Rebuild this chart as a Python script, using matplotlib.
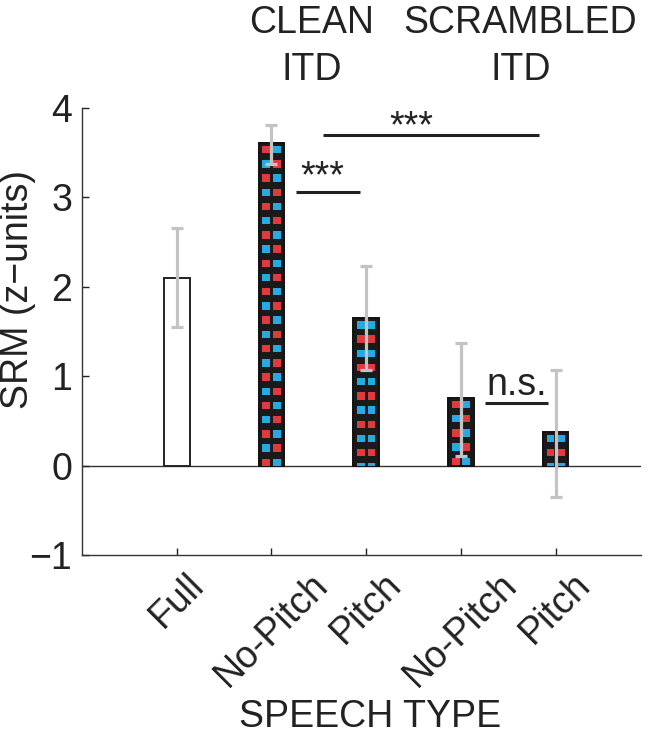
import numpy as np
import matplotlib
matplotlib.use('Agg')
import matplotlib.pyplot as plt
from matplotlib.patches import Rectangle

plt.rcParams['font.family'] = ['Liberation Sans', 'DejaVu Sans']
plt.rcParams['axes.unicode_minus'] = True

# values
labels = ['Full', 'No-Pitch', 'Pitch', 'No-Pitch', 'Pitch']
srm = [2.10, 3.61, 1.65, 0.76, 0.38]
err_hi = [2.66, 3.81, 2.23, 1.37, 1.07]
err_lo = [1.55, 3.37, 1.07, 0.11, -0.35]
patterns = [None, 'checker', 'rows', 'checker', 'rows']

# significance brackets
sig_x1 = [2.26, 2.54, 4.25]
sig_x2 = [2.93, 4.82, 4.92]
sig_y = [3.06, 3.70, 0.70]
sig_tx = [2.54, 3.48, 4.59]
sig_ty = [3.11, 3.67, 0.79]
sig_text = ['***', '***', 'n.s.']

groups = ['CLEAN', 'SCRAMBLED']
group_x = [2.42, 4.63]

RED = '#e0393e'
BLUE = '#27a9e1'
FS = 27

fig = plt.figure(figsize=(6.58, 7.39), dpi=100)
ax = fig.add_axes([0.1246, 0.249, 0.8495, 0.6049])

x = np.arange(1, len(labels) + 1)
width = 0.27

bars = []
for i in range(len(labels)):
    if patterns[i] is None:
        b = ax.bar(x[i], srm[i], width, color='white', edgecolor='#222222', linewidth=1.4, zorder=2)
    else:
        b = ax.bar(x[i], srm[i], width, color='#1a1a1a', edgecolor='#111111', linewidth=1.4, zorder=2)
    bars.append(b[0])

# checker / striped squares inside the patterned bars
sq_w = 0.082
sq_h = 0.083
pitch = 0.159
for i in range(len(labels)):
    if patterns[i] is None:
        continue
    left = x[i] - width / 2
    col_x = [left + 0.040, left + 0.150]
    top = srm[i] - 0.034
    n_rows = int(np.ceil(srm[i] / pitch)) + 1
    for r in range(n_rows):
        y0 = top - r * pitch - sq_h
        for c in range(2):
            if patterns[i] == 'checker':
                col = RED if (r + c) % 2 == 0 else BLUE
            else:
                col = BLUE if r % 2 == 0 else RED
            sq = Rectangle((col_x[c], y0), sq_w, sq_h, facecolor=col, edgecolor='none', zorder=3)
            ax.add_patch(sq)
            sq.set_clip_path(bars[i])

# error bars
yerr = [np.array(srm) - np.array(err_lo), np.array(err_hi) - np.array(srm)]
ax.errorbar(x, srm, yerr=yerr, fmt='none', ecolor='#c3c3c3', elinewidth=2.3,
            capsize=4, capthick=2.3, zorder=4)

ax.axhline(0, color='#333333', linewidth=1.0, zorder=1)

for i in range(len(sig_text)):
    ax.plot([sig_x1[i], sig_x2[i]], [sig_y[i], sig_y[i]], color='#222222', linewidth=2.2,
            clip_on=False, solid_capstyle='butt')
    ax.text(sig_tx[i], sig_ty[i], sig_text[i], ha='center', va='baseline', fontsize=FS,
            color='#222222', clip_on=False)

ax.set_xlim(0, 5.9)
ax.set_ylim(-1, 4)
ax.set_yticks([-1, 0, 1, 2, 3, 4])
ax.set_xticks(x)
ax.set_xticklabels(labels, rotation=45, ha='center', va='top')
ax.tick_params(direction='in', length=5, width=1.0, labelsize=FS, colors='#222222', pad=7)
ax.tick_params(axis='x', pad=8)

for s in ['top', 'right']:
    ax.spines[s].set_visible(False)
for s in ['left', 'bottom']:
    ax.spines[s].set_color('#333333')
    ax.spines[s].set_linewidth(1.0)

ax.set_ylabel('SRM (z\u2212units)', fontsize=FS, color='#222222')
ax.yaxis.set_label_coords(-0.083, 0.593)

fig.text(370 / 658, 1 - 727 / 739, 'SPEECH TYPE', ha='center', va='baseline', fontsize=FS, color='#222222')

for i in range(len(groups)):
    xf = ax.transData.transform((group_x[i], 0))[0] / fig.bbox.width
    fig.text(xf, 1 - 33 / 739, groups[i], ha='center', va='baseline', fontsize=FS, color='#222222')
    fig.text(xf, 1 - 80 / 739, 'ITD', ha='center', va='baseline', fontsize=FS, color='#222222')

fig.savefig('out.png', dpi=100)
